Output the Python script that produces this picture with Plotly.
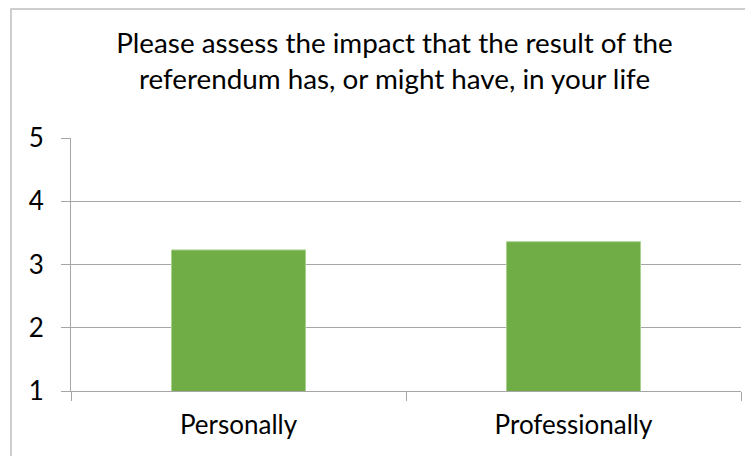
import plotly.graph_objects as go

categories = ["Personally", "Professionally"]
values = [3.23, 3.36]
y_ticks = [1, 2, 3, 4, 5]
title_text = "Please assess the impact that the result of the<br>referendum has, or might have, in your life"

FONT = "Lato"
# page has an 8px body margin; figure pixel = page pixel - 8
L, T, R, B = 63, 130, 20, 73
PW, PH = 753 - L - R, 456 - T - B

fig = go.Figure()
fig.add_trace(go.Bar(
    x=categories, y=values, width=0.4,
    marker=dict(color="#70AD47", line=dict(color="#A9D18E", width=1)),
))

fig.update_layout(
    width=753, height=456,
    margin=dict(l=L, r=R, t=T, b=B, autoexpand=False),
    paper_bgcolor="white", plot_bgcolor="white",
    showlegend=False,
    font=dict(family=FONT, color="black"),
    title=dict(text=title_text, x=386.5 / 753, xanchor="center",
               y=1 - 45 / 456, yanchor="top", yref="container", xref="container",
               font=dict(family=FONT, size=27.8, color="black")),
)
fig.update_yaxes(
    range=[1, 5], tickvals=y_ticks, showgrid=True, gridcolor="#A6A6A6", gridwidth=1,
    ticks="outside", ticklen=9, tickcolor="#A6A6A6", showline=True, linecolor="#A6A6A6",
    tickfont=dict(size=26, color="black"), ticklabelstandoff=12, zeroline=False,
    automargin=False,
)
fig.update_xaxes(
    showline=True, linecolor="#A6A6A6", ticks="outside", tickson="boundaries",
    ticklen=9, tickcolor="#A6A6A6", tickfont=dict(size=26, color="black"),
    ticklabelstandoff=11, automargin=False,
)
fig.add_shape(type="rect", xref="paper", yref="paper",
              x0=(3 - L) / PW, x1=1.2, y0=-0.6, y1=(PH + T - 1) / PH,
              line=dict(color="#BFBFBF", width=1.5), layer="below")
fig.write_html("out.html")
